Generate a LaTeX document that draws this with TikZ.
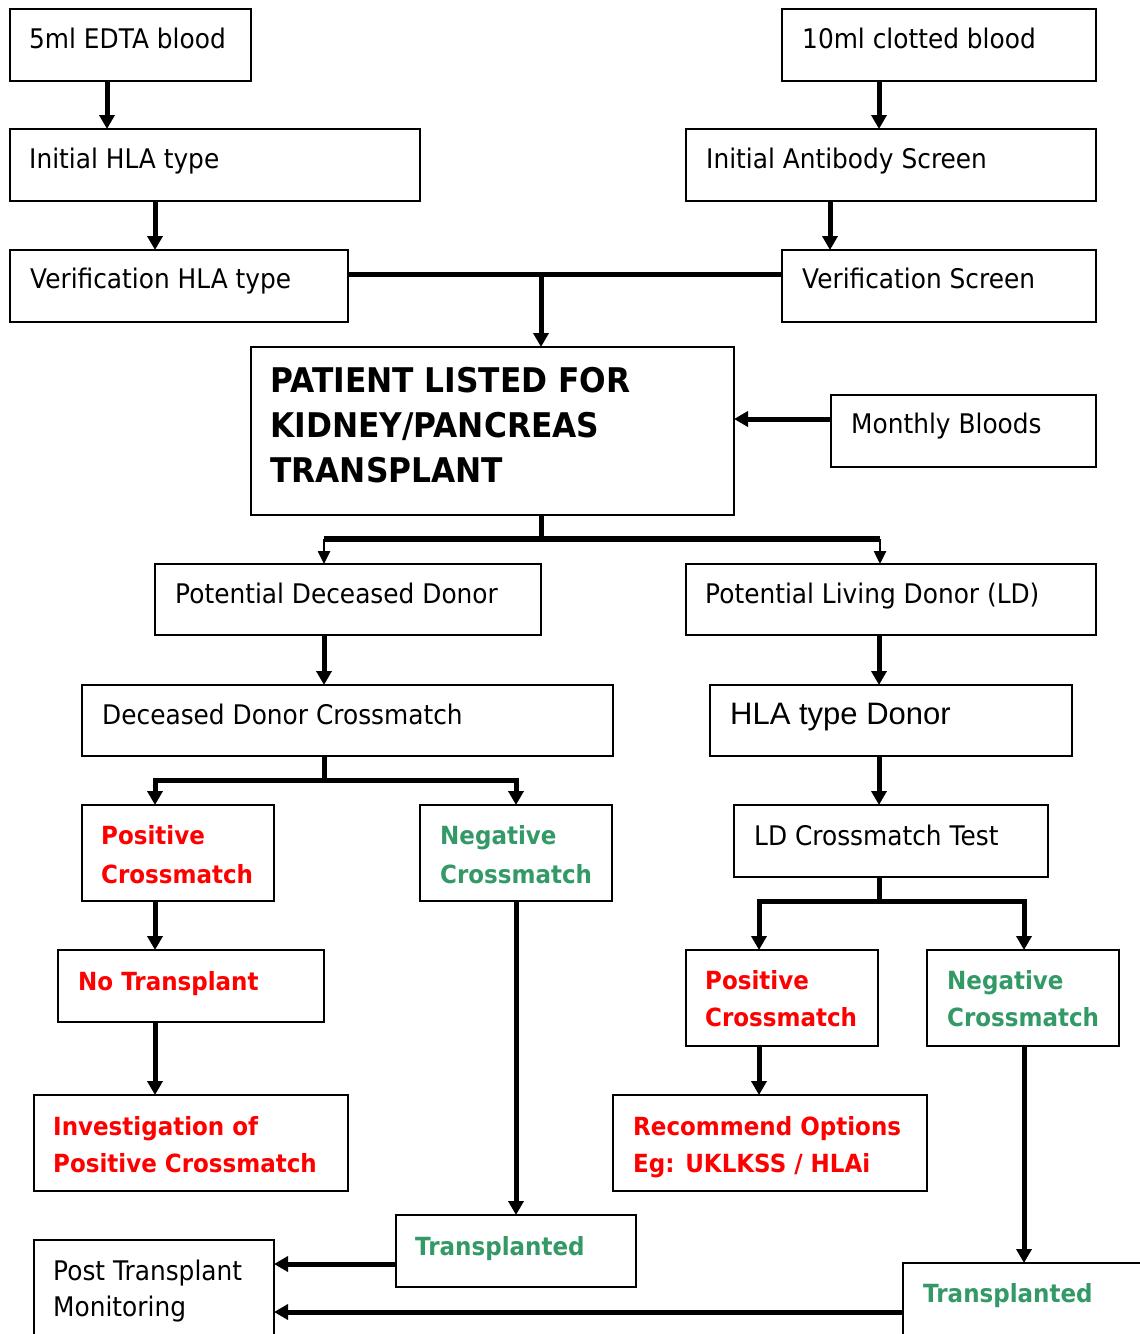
\documentclass[tikz,border=0pt]{standalone}
\usepackage{fontspec}
\setmainfont{DejaVu Sans}[FakeStretch=0.92]
\newfontfamily\arialfont{Liberation Sans}
\usetikzlibrary{arrows.meta,fit}
\definecolor{xred}{RGB}{255,0,0}
\definecolor{xgreen}{RGB}{51,153,102}
\begin{document}
\begin{tikzpicture}[x=1pt,y=-1pt,
  box/.style={draw=black, line width=2.2pt, inner sep=0pt, outer sep=0pt},
  txt/.style={anchor=base west, inner sep=0pt, font=\fontsize{27}{32}\selectfont},
  btxt/.style={anchor=base west, inner sep=0pt, font=\fontsize{25}{30}\selectfont\bfseries},
  ptxt/.style={anchor=base west, inner sep=0pt, font=\fontsize{34}{40}\selectfont\bfseries},
  red/.style={text=xred}, green/.style={text=xgreen},
  arr/.style={line width=5pt, -{Triangle[width=15pt,length=14pt]}},
  tarr/.style={line width=2.5pt, -{Triangle[width=12pt,length=13pt]}},
  bar/.style={line width=5pt}
]
\clip (0,0) rectangle (1140,1334);
\fill[white] (0,0) rectangle (1140,1334);
% boxes
\node[box, fit={(10,9) (251,81)}] (edta) {};
\node[box, fit={(782,9) (1096,81)}] (clot) {};
\node[box, fit={(10,129) (420,201)}] (ihla) {};
\node[box, fit={(686,129) (1096,201)}] (iab) {};
\node[box, fit={(10,250) (348,322)}] (vhla) {};
\node[box, fit={(782,250) (1096,322)}] (vscr) {};
\node[box, fit={(251,347) (734,515)}] (pat) {};
\node[box, fit={(831,395) (1096,467)}] (mon) {};
\node[box, fit={(155,564) (541,635)}] (pdd) {};
\node[box, fit={(686,564) (1096,635)}] (pld) {};
\node[box, fit={(82,685) (613,756)}] (ddx) {};
\node[box, fit={(710,685) (1072,756)}] (hlad) {};
\node[box, fit={(82,805) (274,901)}] (posL) {};
\node[box, fit={(420,805) (612,901)}] (negL) {};
\node[box, fit={(734,805) (1048,877)}] (ldx) {};
\node[box, fit={(58,950) (324,1022)}] (notx) {};
\node[box, fit={(686,950) (878,1046)}] (posR) {};
\node[box, fit={(927,950) (1119,1046)}] (negR) {};
\node[box, fit={(34,1095) (348,1191)}] (inv) {};
\node[box, fit={(613,1095) (927,1191)}] (rec) {};
\node[box, fit={(396,1215) (636,1287)}] (trL) {};
\node[box, fit={(34,1240) (274,1350)}] (post) {};
\node[box, fit={(903,1263) (1160,1350)}] (trR) {};
% texts
\node[txt] (t1) at (29,48) {5ml EDTA blood};
\node[txt] (t2) at (802,48) {10ml clotted blood};
\node[txt] (t3) at (29,168) {Initial HLA type};
\node[txt] (t4) at (706,168) {Initial Antibody Screen};
\node[txt] (t5) at (30,288) {Verification HLA type};
\node[txt] (t6) at (802,288) {Verification Screen};
\node[ptxt] (t7a) at (270,392) {PATIENT LISTED FOR};
\node[ptxt] (t7b) at (270,437) {KIDNEY/PANCREAS};
\node[ptxt] (t7c) at (270,482) {TRANSPLANT};
\node[txt] (t8) at (851,433) {Monthly Bloods};
\node[txt] (t9) at (175,603) {Potential Deceased Donor};
\node[txt] (t10) at (705,603) {Potential Living Donor (LD)};
\node[txt] (t11) at (102,724) {Deceased Donor Crossmatch};
\node[anchor=base west, inner sep=0pt, font=\arialfont\fontsize{31}{36}\selectfont] (t12) at (730,724) {HLA type Donor};
\node[txt] (t13) at (754,845) {LD Crossmatch Test};
\node[btxt,red] (t14a) at (101,844) {Positive};
\node[btxt,red] (t14b) at (101,883) {Crossmatch};
\node[btxt,green] (t15a) at (440,844) {Negative};
\node[btxt,green] (t15b) at (440,883) {Crossmatch};
\node[btxt,red] (t16) at (78,990) {No Transplant};
\node[btxt,red] (t17a) at (705,989) {Positive};
\node[btxt,red] (t17b) at (705,1026) {Crossmatch};
\node[btxt,green] (t18a) at (947,989) {Negative};
\node[btxt,green] (t18b) at (947,1026) {Crossmatch};
\node[btxt,red] (t19a) at (53,1135) {Investigation of};
\node[btxt,red] (t19b) at (53,1172) {Positive Crossmatch};
\node[btxt,red] (t20a) at (633,1135) {Recommend Options};
\node[btxt,red] (t20b) at (633,1172) {Eg: UKLKSS / HLAi};
\node[btxt,green] (t21) at (415,1255) {Transplanted};
\node[txt] (t22a) at (53,1280) {Post Transplant};
\node[txt] (t22b) at (53,1316) {Monitoring};
\node[btxt,green] (t23) at (923,1302) {Transplanted};
% connectors
\draw[arr] (edta.south -| 107,0) -- (ihla.north -| 107,0);
\draw[arr] (clot.south -| 879,0) -- (iab.north -| 879,0);
\draw[arr] (ihla.south -| 155,0) -- (vhla.north -| 155,0);
\draw[arr] (iab.south -| 830,0) -- (vscr.north -| 830,0);
\coordinate (j1) at (541,274);
\draw[bar] (vhla.east |- j1) -- (vscr.west |- j1);
\draw[arr] (j1) -- (pat.north -| j1);
\draw[arr] (mon.west |- 0,419) -- (pat.east |- 0,419);
\coordinate (j2) at (541,539);
\draw[bar] (pat.south -| j2) -- (j2);
\draw[line width=5.5pt] (324,539) -- (880,539);
\draw[tarr] (324,539) -- (pdd.north -| 324,0);
\draw[tarr] (880,539) -- (pld.north -| 880,0);
\draw[arr] (pdd.south -| 324,0) -- (ddx.north -| 324,0);
\draw[arr] (pld.south -| 879,0) -- (hlad.north -| 879,0);
\coordinate (j3) at (324,780);
\draw[bar] (ddx.south -| j3) -- (j3);
\draw[arr] (j3) -| (posL.north -| 155,0);
\draw[arr] (j3) -| (negL.north -| 516,0);
\draw[arr] (hlad.south -| 879,0) -- (ldx.north -| 879,0);
\coordinate (j4) at (879,901);
\draw[bar] (ldx.south -| j4) -- (j4);
\draw[arr] (j4) -| (posR.north -| 759,0);
\draw[arr] (j4) -| (negR.north -| 1024,0);
\draw[arr] (posL.south -| 155,0) -- (notx.north -| 155,0);
\draw[arr] (notx.south -| 155,0) -- (inv.north -| 155,0);
\draw[arr] (negL.south -| 516,0) -- (trL.north -| 516,0);
\draw[arr] (posR.south -| 759,0) -- (rec.north -| 759,0);
\draw[arr] (negR.south -| 1024,0) -- (trR.north -| 1024,0);
\draw[arr] (trL.west |- 0,1264) -- (post.east |- 0,1264);
\draw[arr] (trR.west |- 0,1312) -- (post.east |- 0,1312);
\end{tikzpicture}
\end{document}
